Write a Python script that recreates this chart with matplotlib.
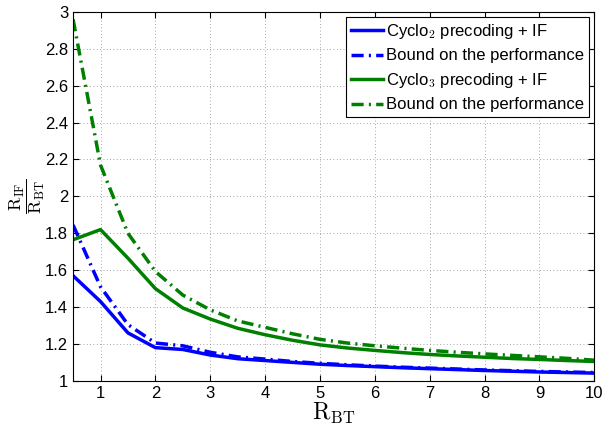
import matplotlib
matplotlib.use('Agg')
import matplotlib.pyplot as plt

plt.rcParams['font.family'] = ['Liberation Sans', 'DejaVu Sans']
plt.rcParams['mathtext.fontset'] = 'cm'

# rate ratio data
r_bt = [0.5, 1, 1.5, 2, 2.5, 3, 3.5, 4, 4.5, 5, 5.5, 6, 6.5, 7, 7.5, 8, 8.5, 9, 9.5, 10]
cyclo2_if = [1.57, 1.43, 1.26, 1.18, 1.17, 1.14, 1.12, 1.11, 1.10, 1.09,
             1.083, 1.077, 1.071, 1.066, 1.061, 1.056, 1.052, 1.048, 1.045, 1.042]
cyclo2_bound = [1.845, 1.51, 1.305, 1.205, 1.19, 1.155, 1.13, 1.118, 1.105, 1.095,
                1.087, 1.08, 1.074, 1.069, 1.064, 1.059, 1.055, 1.051, 1.048, 1.045]
cyclo3_if = [1.765, 1.82, 1.665, 1.50, 1.395, 1.335, 1.285, 1.25, 1.22, 1.195,
             1.178, 1.165, 1.153, 1.143, 1.135, 1.128, 1.121, 1.116, 1.11, 1.105]
cyclo3_bound = [2.96, 2.17, 1.80, 1.593, 1.465, 1.385, 1.325, 1.29, 1.255, 1.225,
                1.205, 1.19, 1.177, 1.165, 1.155, 1.146, 1.138, 1.13, 1.122, 1.112]

dashdot = (0, (3.5, 1.5, 0.6, 1.5))

fig = plt.figure(figsize=(6.14, 4.26), dpi=100)
ax = fig.add_axes([0.119, 0.106, 0.849, 0.866])

ax.plot(r_bt, cyclo2_if, color='#0000ff', lw=2.5, label=r'Cyclo$_2$ precoding + IF')
ax.plot(r_bt, cyclo2_bound, color='#0000ff', lw=2.5, linestyle=dashdot,
        label='Bound on the performance')
ax.plot(r_bt, cyclo3_if, color='#008000', lw=2.5, label=r'Cyclo$_3$ precoding + IF')
ax.plot(r_bt, cyclo3_bound, color='#008000', lw=2.5, linestyle=dashdot,
        label='Bound on the performance')

ax.set_xlim(0.5, 10)
ax.set_ylim(1, 3)
ax.set_xticks(range(1, 11))
ax.set_yticks([1, 1.2, 1.4, 1.6, 1.8, 2, 2.2, 2.4, 2.6, 2.8, 3])
ax.set_yticklabels(['1', '1.2', '1.4', '1.6', '1.8', '2', '2.2', '2.4', '2.6', '2.8', '3'])
ax.tick_params(labelsize=12, direction='in', top=True, right=True, length=4)
ax.grid(True, linestyle=(0, (1, 3)), color='#888888', linewidth=0.6)

ax.set_xlabel(r'$\mathrm{R}_{\mathrm{BT}}$', fontsize=17, labelpad=0)
ax.set_ylabel(r'$\dfrac{\mathrm{R}_{\mathrm{IF}}}{\mathrm{R}_{\mathrm{BT}}}$', fontsize=13)
ax.yaxis.set_label_coords(-0.05, 0.5)

leg = ax.legend(loc='upper right', fontsize=12, fancybox=False, framealpha=1,
                edgecolor='black', borderaxespad=0.3, handlelength=1.9,
                handletextpad=0.2, labelspacing=0.45, borderpad=0.3)
leg.get_frame().set_linewidth(0.8)

for s in ax.spines.values():
    s.set_linewidth(0.8)

fig.savefig('out.png', dpi=100)
